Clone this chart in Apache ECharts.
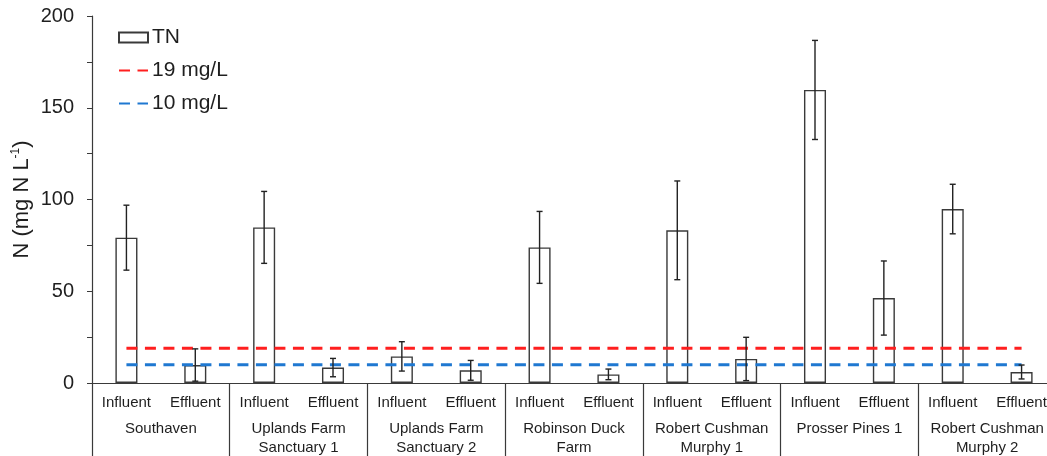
<!DOCTYPE html>
<html>
<head>
<meta charset="utf-8">
<script src="https://cdn.jsdelivr.net/npm/echarts@6/dist/echarts.min.js"></script>
<style>html,body{margin:0;padding:0;background:#fff;}#chart{width:1047px;height:456px;}</style>
</head>
<body>
<div id="chart"></div>
<script>
const categories = ['Influent','Effluent','Influent','Effluent','Influent','Effluent','Influent','Effluent','Influent','Effluent','Influent','Effluent','Influent','Effluent'];
const groups = ['Southaven','Uplands Farm\nSanctuary 1','Uplands Farm\nSanctuary 2','Robinson Duck\nFarm','Robert Cushman\nMurphy 1','Prosser Pines 1','Robert Cushman\nMurphy 2'];
const tnMean = [79.2, 9.8, 84.8, 8.4, 14.5, 6.9, 73.9, 4.7, 83.2, 13.1, 159.7, 46.3, 94.8, 6.0];
const tnErr = [17.7, 8.8, 19.6, 5.0, 8.0, 5.4, 19.6, 2.9, 26.9, 11.8, 27.0, 20.2, 13.5, 3.8];
const limit19 = [19,19,19,19,19,19,19,19,19,19,19,19,19,19];
const limit10 = [10,10,10,10,10,10,10,10,10,10,10,10,10,10];
const yTicks = [0, 50, 100, 150, 200];

const FONT = 'Liberation Sans, Arial, sans-serif';
const LINE = '#3a3a3a';
const TEXT = '#1f1f1f';

const errData = tnMean.map((m, i) => [i, m - tnErr[i], m + tnErr[i]]);
const hidden = { color: 'rgba(0,0,0,0)', borderColor: 'rgba(0,0,0,0)', borderWidth: 0 };

const chart = echarts.init(document.getElementById('chart'));
chart.setOption({
  animation: false,
  backgroundColor: '#fff',
  textStyle: { fontFamily: FONT },
  grid: { left: 92, top: 16, right: -9, bottom: 73, containLabel: false, outerBoundsMode: 'none' },
  legend: {
    orient: 'vertical', left: 113, top: 22, itemGap: 12, itemWidth: 29, itemHeight: 10,
    textStyle: { fontSize: 21, color: TEXT, fontFamily: FONT, padding: [0,0,0,-1] },
    data: [
      { name: 'TN', icon: 'rect' },
      { name: '19 mg/L', itemStyle: hidden },
      { name: '10 mg/L', itemStyle: hidden }
    ]
  },
  xAxis: [
    {
      type: 'category', data: categories, position: 'bottom',
      axisLine: { lineStyle: { color: LINE, width: 1.2 } },
      axisTick: { show: false },
      axisLabel: { fontSize: 15, color: TEXT, margin: 12, interval: 0, fontFamily: FONT }
    },
    {
      type: 'category', data: groups, position: 'bottom',
      axisLine: { show: false },
      axisTick: { show: true, length: 80, interval: 0, lineStyle: { color: LINE, width: 1.2 } },
      axisLabel: { fontSize: 15, color: TEXT, margin: 36, lineHeight: 19, interval: 0, verticalAlign: 'top', fontFamily: FONT }
    }
  ],
  yAxis: {
    type: 'value', min: 0, max: 200, interval: 25,
    name: 'N (mg N L{sup|-1})', nameLocation: 'middle', nameGap: 58, nameRotate: 90,
    nameMoveOverlap: false,
    nameTextStyle: { fontSize: 22, lineHeight: 24, color: TEXT, fontFamily: FONT,
      rich: { sup: { fontSize: 12, lineHeight: 24, verticalAlign: 'top', padding: [0,0,10,0], color: TEXT } } },
    axisLine: { show: true, lineStyle: { color: LINE, width: 1.2 } },
    axisTick: { show: true, inside: false, length: 5, lineStyle: { color: LINE } },
    splitLine: { show: false },
    axisLabel: { fontSize: 20, color: TEXT, margin: 18, fontFamily: FONT,
      formatter: v => (yTicks.indexOf(v) >= 0 ? String(v) : '') }
  },
  series: [
    {
      name: 'TN', type: 'bar', data: tnMean, barWidth: '32%', xAxisIndex: 0,
      itemStyle: { color: '#ffffff', borderColor: LINE, borderWidth: 1.4 },
      z: 2
    },
    {
      name: 'errors', type: 'custom', xAxisIndex: 0, data: errData, z: 4,
      encode: { x: 0, y: [1, 2] },
      renderItem: function (params, api) {
        const i = api.value(0);
        const lo = api.coord([i, api.value(1)]);
        const hi = api.coord([i, api.value(2)]);
        const cap = 3;
        const style = { stroke: '#222', lineWidth: 1.4 };
        return { type: 'group', children: [
          { type: 'line', shape: { x1: lo[0], y1: lo[1], x2: hi[0], y2: hi[1] }, style },
          { type: 'line', shape: { x1: lo[0]-cap, y1: lo[1], x2: lo[0]+cap, y2: lo[1] }, style },
          { type: 'line', shape: { x1: hi[0]-cap, y1: hi[1], x2: hi[0]+cap, y2: hi[1] }, style }
        ]};
      }
    },
    {
      name: '19 mg/L', type: 'line', data: limit19, xAxisIndex: 0, symbol: 'none', z: 3,
      lineStyle: { color: '#ff1f1f', width: 3, type: [11, 7.5] },
      itemStyle: { color: '#ff1f1f' }
    },
    {
      name: '10 mg/L', type: 'line', data: limit10, xAxisIndex: 0, symbol: 'none', z: 3,
      lineStyle: { color: '#1f78d1', width: 3, type: [11, 7.5] },
      itemStyle: { color: '#1f78d1' }
    }
  ]
});
</script>
</body>
</html>
